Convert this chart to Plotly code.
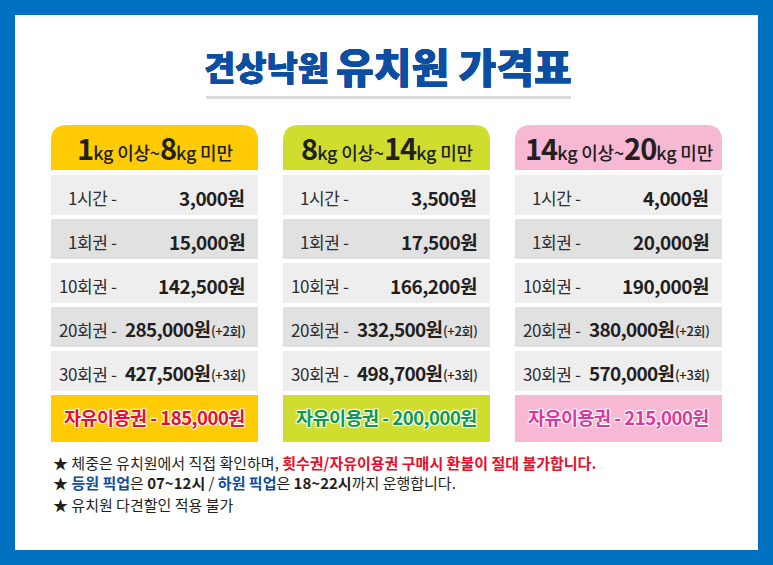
import plotly.graph_objects as go

FONT = "Noto Sans CJK KR"
BLUE = "#0070c0"
NAVY = "#0b4ea2"
INK = "#231f20"

# data
headers = [("1", "8"), ("8", "14"), ("14", "20")]
ticket_names = ["1시간", "1회권", "10회권", "20회권", "30회권"]
prices = [
    ["3,000원", "15,000원", "142,500원", "285,000원", "427,500원"],
    ["3,500원", "17,500원", "166,200원", "332,500원", "498,700원"],
    ["4,000원", "20,000원", "190,000원", "380,000원", "570,000원"],
]
bonus = ["", "", "", "(+2회)", "(+3회)"]
free_pass = ["185,000원", "200,000원", "215,000원"]

# style
col_left = [51, 283, 515]
col_w = 207
head_colors = ["#ffcb05", "#cfdd2f", "#f6b8d3"]
free_colors = ["#e60f2d", "#0a9a4a", "#e0359a"]
row_top = [175, 219, 263, 307, 351]
row_colors = ["#eeeeef", "#e1e1e2", "#eeeeef", "#e1e1e2", "#eeeeef"]

fig = go.Figure()
shapes = []
notes = []


def rect(x0, y0, x1, y1, color):
    shapes.append(dict(type="rect", x0=x0, y0=y0, x1=x1, y1=y1, fillcolor=color, line_width=0, layer="below"))


def label(x, y, text, size=16, anchor="left", color=INK, weight=400, shadow="none", spacing=0):
    if spacing:
        text = f"<span style='letter-spacing:{spacing}px'>{text}</span>"
    notes.append(dict(x=x, y=y, text=text, showarrow=False, xanchor=anchor, yanchor="middle", borderpad=0,
                      font=dict(family=FONT, size=size, color=color, weight=weight, shadow=shadow)))


# frame and title
rect(0, 0, 773, 565, BLUE)
rect(15, 15, 758, 550, "white")
rect(206, 96, 571, 99, "#d9dade")
thick = f"0.3px 0 0 {NAVY}, -0.3px 0 0 {NAVY}, 0 0.3px 0 {NAVY}, 0 -0.3px 0 {NAVY}"
label(266, 66, "견상낙원", 34, "center", NAVY, 900, thick)
label(454, 65, "유치원 가격표", 41, "center", NAVY, 900, thick)

for c, left in enumerate(col_left):
    right = left + col_w
    # header with rounded top corners
    shapes.append(dict(type="path", fillcolor=head_colors[c], line_width=0, layer="below",
                       path=f"M{left},170 L{left},141 Q{left},125 {left+16},125 L{right-16},125 "
                            f"Q{right},125 {right},141 L{right},170 Z"))
    lo, hi = headers[c]
    big = "font-size:29px;font-weight:700;letter-spacing:-1px"
    label(left + col_w / 2, 147,
          f"<span style='{big}'>{lo}</span>kg 이상~<span style='{big}'>{hi}</span>kg 미만",
          18, "center", INK, 500, spacing=-0.2)

    for r, name in enumerate(ticket_names):
        top = row_top[r]
        rect(left, top, right, top + 40, row_colors[r])
        label(left + 67, top + 22, name + " -", 17, "right", "#2f2c2d", 400, spacing=-0.4)
        if bonus[r]:
            label(right - 11, top + 23, bonus[r], 13, "right", INK, 500, spacing=-0.3)
            label(right - 47, top + 21, prices[c][r], 19, "right", INK, 700, spacing=-0.7)
        else:
            label(right - 12, top + 22, prices[c][r], 19, "right", INK, 700, spacing=-0.5)

    rect(left, 395, right, 442, head_colors[c])
    label(left + col_w / 2, 417, "자유이용권 - " + free_pass[c], 18.5, "center", free_colors[c], 700,
          "1px 1px 1px white, -1px -1px 1px white, 1px -1px 1px white, -1px 1px 1px white", spacing=-0.5)

# footnotes
red = "<b style='color:#e60f2d'>{}</b>"
blue = "<b style='color:#0b4ea2'>{}</b>"
label(52, 462, "★ 체중은 유치원에서 직접 확인하며, " + red.format("횟수권/자유이용권 구매시 환불이 절대 불가합니다."), 15)
label(52, 482, "★ " + blue.format("등원 픽업") + "은 <b>07~12시</b> / " + blue.format("하원 픽업") + "은 <b>18~22시</b>까지 운행합니다.", 15)
label(52, 504, "★ 유치원 다견할인 적용 불가", 15)

fig.update_layout(
    width=773, height=565, margin=dict(l=0, r=0, t=0, b=0),
    paper_bgcolor="white", plot_bgcolor="white", showlegend=False,
    xaxis=dict(range=[0, 773], visible=False, fixedrange=True),
    yaxis=dict(range=[565, 0], visible=False, fixedrange=True),
    shapes=shapes, annotations=notes,
)
fig.write_html("out.html", config={"displayModeBar": False},
               post_script="document.body.style.margin='0';document.body.style.overflow='hidden';")
